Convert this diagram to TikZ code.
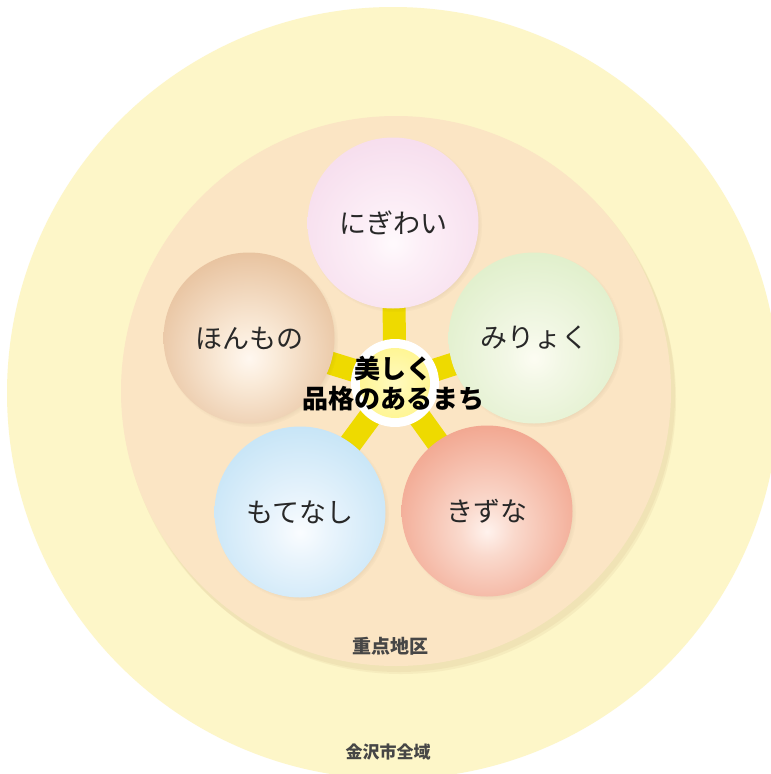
\documentclass[tikz,border=0pt]{standalone}
\usepackage{fontspec}
\setmainfont{Noto Sans CJK JP}
\newfontfamily\jpfont{Noto Sans CJK JP}
\usetikzlibrary{shadows}
\definecolor{outerzone}{RGB}{253,246,200}
\definecolor{innerzone}{RGB}{251,229,196}
\definecolor{zoneshade}{RGB}{200,170,120}
\definecolor{spokeyellow}{RGB}{238,218,0}
\definecolor{labelgray}{RGB}{40,40,40}
\definecolor{zonegray}{RGB}{70,70,70}
\pgfdeclareradialshading{sphpink}{\pgfpoint{0bp}{-6bp}}{rgb(0bp)=(1,0.98,0.99); rgb(8bp)=(0.99,0.94,0.97); rgb(35bp)=(0.96,0.85,0.92); rgb(52bp)=(0.93,0.77,0.88); rgb(75bp)=(0.93,0.77,0.88)}
\pgfdeclareradialshading{sphgreen}{\pgfpoint{0bp}{-6bp}}{rgb(0bp)=(0.99,0.99,0.95); rgb(8bp)=(0.95,0.97,0.9); rgb(35bp)=(0.86,0.93,0.77); rgb(52bp)=(0.78,0.88,0.66); rgb(75bp)=(0.78,0.88,0.66)}
\pgfdeclareradialshading{sphred}{\pgfpoint{0bp}{-6bp}}{rgb(0bp)=(1,0.95,0.93); rgb(8bp)=(0.98,0.85,0.8); rgb(35bp)=(0.94,0.6,0.5); rgb(52bp)=(0.9,0.47,0.37); rgb(75bp)=(0.9,0.47,0.37)}
\pgfdeclareradialshading{sphblue}{\pgfpoint{0bp}{-6bp}}{rgb(0bp)=(0.98,0.99,1); rgb(8bp)=(0.92,0.96,0.99); rgb(35bp)=(0.74,0.88,0.96); rgb(52bp)=(0.62,0.81,0.93); rgb(75bp)=(0.62,0.81,0.93)}
\pgfdeclareradialshading{sphbrown}{\pgfpoint{0bp}{-6bp}}{rgb(0bp)=(1,0.97,0.94); rgb(8bp)=(0.98,0.92,0.85); rgb(35bp)=(0.89,0.72,0.56); rgb(52bp)=(0.8,0.58,0.42); rgb(75bp)=(0.8,0.58,0.42)}
\pgfdeclareradialshading{coreyellow}{\pgfpoint{0bp}{0bp}}{rgb(0bp)=(1,0.98,0.75); rgb(30bp)=(1,0.96,0.55); rgb(45bp)=(0.95,0.87,0.05); rgb(60bp)=(0.93,0.85,0.0)}
\pgfdeclarelayer{zones}
\pgfdeclarelayer{spokes}
\pgfsetlayers{zones,spokes,main}
\tikzset{
  sphere/.style={circle, minimum size=171pt, inner sep=0pt, font=\jpfont\fontsize{27}{32}\selectfont, text=labelgray,
    circular drop shadow={shadow xshift=2pt, shadow yshift=-2pt, shadow scale=1.02, opacity=0.18, fill=black!60!brown}},
  spoke/.style={draw=spokeyellow, line width=23pt},
  zonelabel/.style={text=zonegray, font=\jpfont\bfseries\fontsize{19}{22}\selectfont},
}
\begin{document}
\begin{tikzpicture}[x=1pt,y=-1pt]
\useasboundingbox (0,0) rectangle (771,774);
\begin{pgfonlayer}{zones}
  \fill[white] (0,0) rectangle (771,774);
  \node[circle, fill=outerzone, minimum size=772pt, inner sep=0pt] (city) at (393,393) {};
  \fill[zoneshade, opacity=0.12] (399,396) circle[radius=276pt];
  \fill[zoneshade, opacity=0.12] (401,399) circle[radius=275pt];
  \node[circle, fill=innerzone, minimum size=550pt, inner sep=0pt] (district) at (396,391) {};
\end{pgfonlayer}
\node[zonelabel] (districtlabel) at (390,646) {重点地区};
\node[zonelabel, font=\jpfont\bfseries\fontsize{17}{20}\selectfont] (citylabel) at (388,752) {金沢市全域};

\node[circle, fill=white, minimum size=88pt, inner sep=0pt] (core) at (395,383) {};
\path[shading=coreyellow] (core.center) circle[radius=35pt];

\node[sphere, shading=sphpink] (nigiwai) at (393,223) {にぎわい};
\node[sphere, shading=sphgreen] (miryoku) at (534,338) {みりょく};
\node[sphere, shading=sphred] (kizuna) at (487,511) {きずな};
\node[sphere, shading=sphblue] (motenashi) at (300,512) {もてなし};
\node[sphere, shading=sphbrown] (honmono) at (249,338) {ほんもの};

\begin{pgfonlayer}{spokes}
  \foreach \s in {nigiwai,miryoku,kizuna,motenashi,honmono}
    \draw[spoke] (core.center) -- (\s.center);
\end{pgfonlayer}

\node[align=center, font=\jpfont\bfseries\fontsize{26}{30}\selectfont, text=black] (title) at (393,384) {美しく\\品格のあるまち};
\end{tikzpicture}
\end{document}
